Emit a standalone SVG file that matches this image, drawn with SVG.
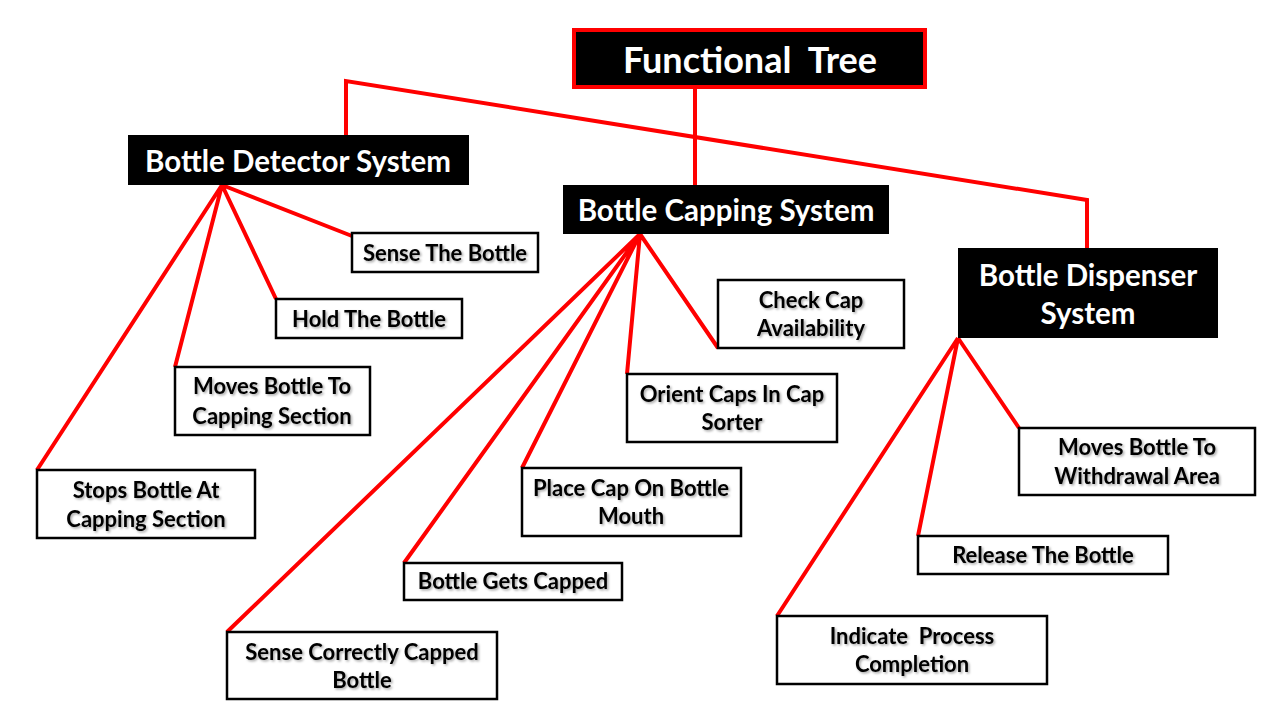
<svg xmlns="http://www.w3.org/2000/svg" width="1280" height="720" viewBox="0 0 1280 720">
<defs>
<filter id="sh" x="-10%" y="-20%" width="130%" height="150%">
<feDropShadow dx="1.5" dy="1.5" stdDeviation="1" flood-color="#000" flood-opacity="0.35"/>
</filter>
<style>
.hd{fill:#000}
.ht{fill:#fff;font-family:Lato,"Liberation Sans",sans-serif;font-weight:bold;font-size:29.5px;text-anchor:middle;dominant-baseline:central}
.lf{fill:#fff;stroke:#000;stroke-width:2.5}
.lt{fill:#000;font-family:Lato,"Liberation Sans",sans-serif;font-weight:bold;font-size:22px;text-anchor:middle;dominant-baseline:central;filter:url(#sh)}
.cn{fill:none;stroke:#f00;stroke-width:4;stroke-linejoin:miter}
</style>
</defs>
<rect width="1280" height="720" fill="#fff"/>
<g id="connectors">
<path class="cn" d="M695,89 V185"/>
<path class="cn" d="M346,135 V81 L1087,200 V248"/>
<path class="cn" d="M222,185 L352,236 M222,185 L276,299 M222,185 L175,367 M222,185 L37,470"/>
<path class="cn" d="M640,234 L718,348 M640,234 L627,374 M640,234 L522,468 M640,234 L404,563 M640,234 L227,632"/>
<path class="cn" d="M958,338 L1019,428 M958,338 L918,536 M958,338 L777,616"/>
</g>
<g id="title">
<rect x="574" y="30" width="351" height="57" fill="#000" stroke="#f00" stroke-width="4"/>
<text x="750" y="59" class="ht" style="font-size:36px" xml:space="preserve">Functional  Tree</text>
</g>
<g id="bottle-detector">
<rect class="hd" x="128" y="135" width="341" height="50"/>
<text class="ht" x="298" y="160">Bottle Detector System</text>
</g>
<g id="bottle-capping">
<rect class="hd" x="563" y="185" width="326" height="49"/>
<text class="ht" x="726" y="209">Bottle Capping System</text>
</g>
<g id="bottle-dispenser">
<rect class="hd" x="958" y="248" width="260" height="90"/>
<text class="ht" x="1088" y="274">Bottle Dispenser</text>
<text class="ht" x="1088" y="312">System</text>
</g>
<g id="sense-bottle">
<rect class="lf" x="352" y="233" width="186" height="39"/>
<text class="lt" x="445" y="252">Sense The Bottle</text>
</g>
<g id="hold-bottle">
<rect class="lf" x="276" y="299" width="186" height="39"/>
<text class="lt" x="369" y="318">Hold The Bottle</text>
</g>
<g id="moves-capping">
<rect class="lf" x="175" y="367" width="195" height="68"/>
<text class="lt" x="272" y="385">Moves Bottle To</text>
<text class="lt" x="272" y="415">Capping Section</text>
</g>
<g id="stops-bottle">
<rect class="lf" x="37" y="470" width="218" height="68"/>
<text class="lt" x="146" y="489">Stops Bottle At</text>
<text class="lt" x="146" y="518">Capping Section</text>
</g>
<g id="check-cap">
<rect class="lf" x="718" y="280" width="186" height="68"/>
<text class="lt" x="811" y="299">Check Cap</text>
<text class="lt" x="811" y="327">Availability</text>
</g>
<g id="orient-caps">
<rect class="lf" x="627" y="374" width="210" height="68"/>
<text class="lt" x="732" y="393">Orient Caps In Cap</text>
<text class="lt" x="732" y="421">Sorter</text>
</g>
<g id="place-cap">
<rect class="lf" x="522" y="468" width="219" height="68"/>
<text class="lt" x="631" y="487">Place Cap On Bottle</text>
<text class="lt" x="631" y="515">Mouth</text>
</g>
<g id="gets-capped">
<rect class="lf" x="404" y="563" width="218" height="37"/>
<text class="lt" x="513" y="580">Bottle Gets Capped</text>
</g>
<g id="sense-capped">
<rect class="lf" x="227" y="632" width="270" height="67"/>
<text class="lt" x="362" y="651">Sense Correctly Capped</text>
<text class="lt" x="362" y="679">Bottle</text>
</g>
<g id="moves-withdrawal">
<rect class="lf" x="1019" y="428" width="236" height="67"/>
<text class="lt" x="1137" y="446">Moves Bottle To</text>
<text class="lt" x="1137" y="475">Withdrawal Area</text>
</g>
<g id="release-bottle">
<rect class="lf" x="918" y="536" width="250" height="38"/>
<text class="lt" x="1043" y="554">Release The Bottle</text>
</g>
<g id="indicate-completion">
<rect class="lf" x="777" y="616" width="270" height="68"/>
<text class="lt" x="912" y="635" xml:space="preserve">Indicate  Process</text>
<text class="lt" x="912" y="663">Completion</text>
</g>
</svg>
